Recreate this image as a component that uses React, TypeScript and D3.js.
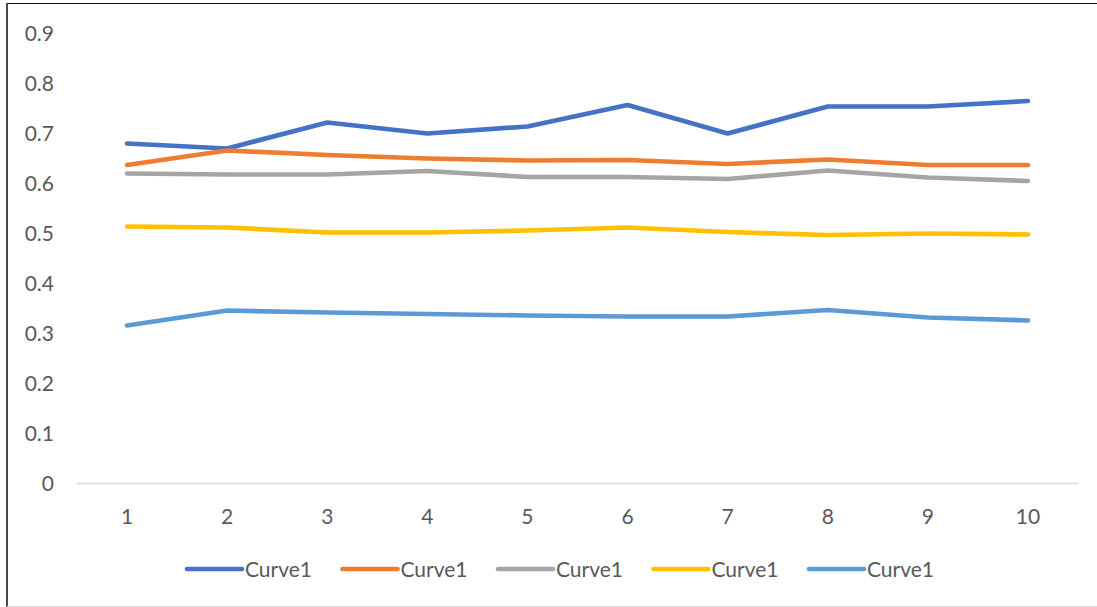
import React from "react";
import * as d3 from "d3";

// Category positions along the x axis
const categories = [1, 2, 3, 4, 5, 6, 7, 8, 9, 10];

// Series values
const seriesA = [0.68, 0.67, 0.722, 0.7, 0.714, 0.757, 0.7, 0.754, 0.754, 0.765];
const seriesB = [0.637, 0.666, 0.657, 0.65, 0.646, 0.647, 0.639, 0.648, 0.637, 0.637];
const seriesC = [0.62, 0.618, 0.618, 0.625, 0.613, 0.613, 0.609, 0.626, 0.612, 0.605];
const seriesD = [0.514, 0.512, 0.502, 0.502, 0.506, 0.512, 0.503, 0.497, 0.5, 0.498];
const seriesE = [0.316, 0.346, 0.342, 0.339, 0.336, 0.334, 0.334, 0.347, 0.332, 0.326];

const seriesNames = ["Curve1", "Curve1", "Curve1", "Curve1", "Curve1"];
const seriesColors = ["#4472C4", "#ED7D31", "#A5A5A5", "#FFC000", "#5B9BD5"];
const yTicks = [0, 0.1, 0.2, 0.3, 0.4, 0.5, 0.6, 0.7, 0.8, 0.9];

const W = 1097;
const H = 607;
const FONT = "Lato, 'Open Sans', sans-serif";
const TEXT = "#595959";

export default function App() {
  const allSeries = [seriesA, seriesB, seriesC, seriesD, seriesE];

  const x = d3
    .scaleBand<number>()
    .domain(categories)
    .range([77, 1078])
    .padding(0);
  const cx = (c: number) => (x(c) ?? 0) + x.bandwidth() / 2;

  const y = d3.scaleLinear().domain([0, 0.9]).range([483.5, 33.5]);

  const line = d3
    .line<number>()
    .x((_, i) => cx(categories[i]))
    .y((v) => y(v));

  const legendX0 = 187;
  const legendStep = 155.5;
  const legendY = 569;

  return (
    <svg
      width={W}
      height={H}
      style={{ position: "absolute", left: 0, top: 0, background: "#fff" }}
      fontFamily={FONT}
    >
      <rect x={0} y={0} width={W} height={H} fill="#fff" />
      {/* frame */}
      <line x1={6} x2={W} y1={3.5} y2={3.5} stroke="#111" strokeWidth={1.2} />
      <line x1={7} x2={7} y1={3} y2={H} stroke="#4a4a4a" strokeWidth={2} />
      <line x1={7} x2={W} y1={606.5} y2={606.5} stroke="#dcdcdc" strokeWidth={1} />

      {/* y tick labels */}
      {yTicks.map((t) => (
        <text
          key={t}
          x={54}
          y={y(t)}
          dy="0.36em"
          textAnchor="end"
          fontSize={21}
          fill={TEXT}
        >
          {t === 0 ? "0" : d3.format(".1f")(t)}
        </text>
      ))}

      {/* baseline */}
      <line
        x1={77}
        x2={1078}
        y1={y(0)}
        y2={y(0)}
        stroke="#d9d9d9"
        strokeWidth={1.5}
      />

      {/* x tick labels */}
      {categories.map((c) => (
        <text
          key={c}
          x={cx(c)}
          y={516}
          dy="0.36em"
          textAnchor="middle"
          fontSize={21}
          fill={TEXT}
        >
          {c}
        </text>
      ))}

      {/* series lines */}
      {allSeries.map((s, i) => (
        <path
          key={i}
          d={line(s) ?? ""}
          fill="none"
          stroke={seriesColors[i]}
          strokeWidth={4.7}
          strokeLinecap="round"
          strokeLinejoin="round"
        />
      ))}

      {/* legend */}
      {seriesNames.map((name, i) => {
        const lx = legendX0 + i * legendStep;
        return (
          <g key={i}>
            <line
              x1={lx}
              x2={lx + 55}
              y1={legendY}
              y2={legendY}
              stroke={seriesColors[i]}
              strokeWidth={4.7}
              strokeLinecap="round"
            />
            <text
              x={lx + 58}
              y={legendY}
              dy="0.36em"
              fontSize={21}
              fill={TEXT}
            >
              {name}
            </text>
          </g>
        );
      })}
    </svg>
  );
}
